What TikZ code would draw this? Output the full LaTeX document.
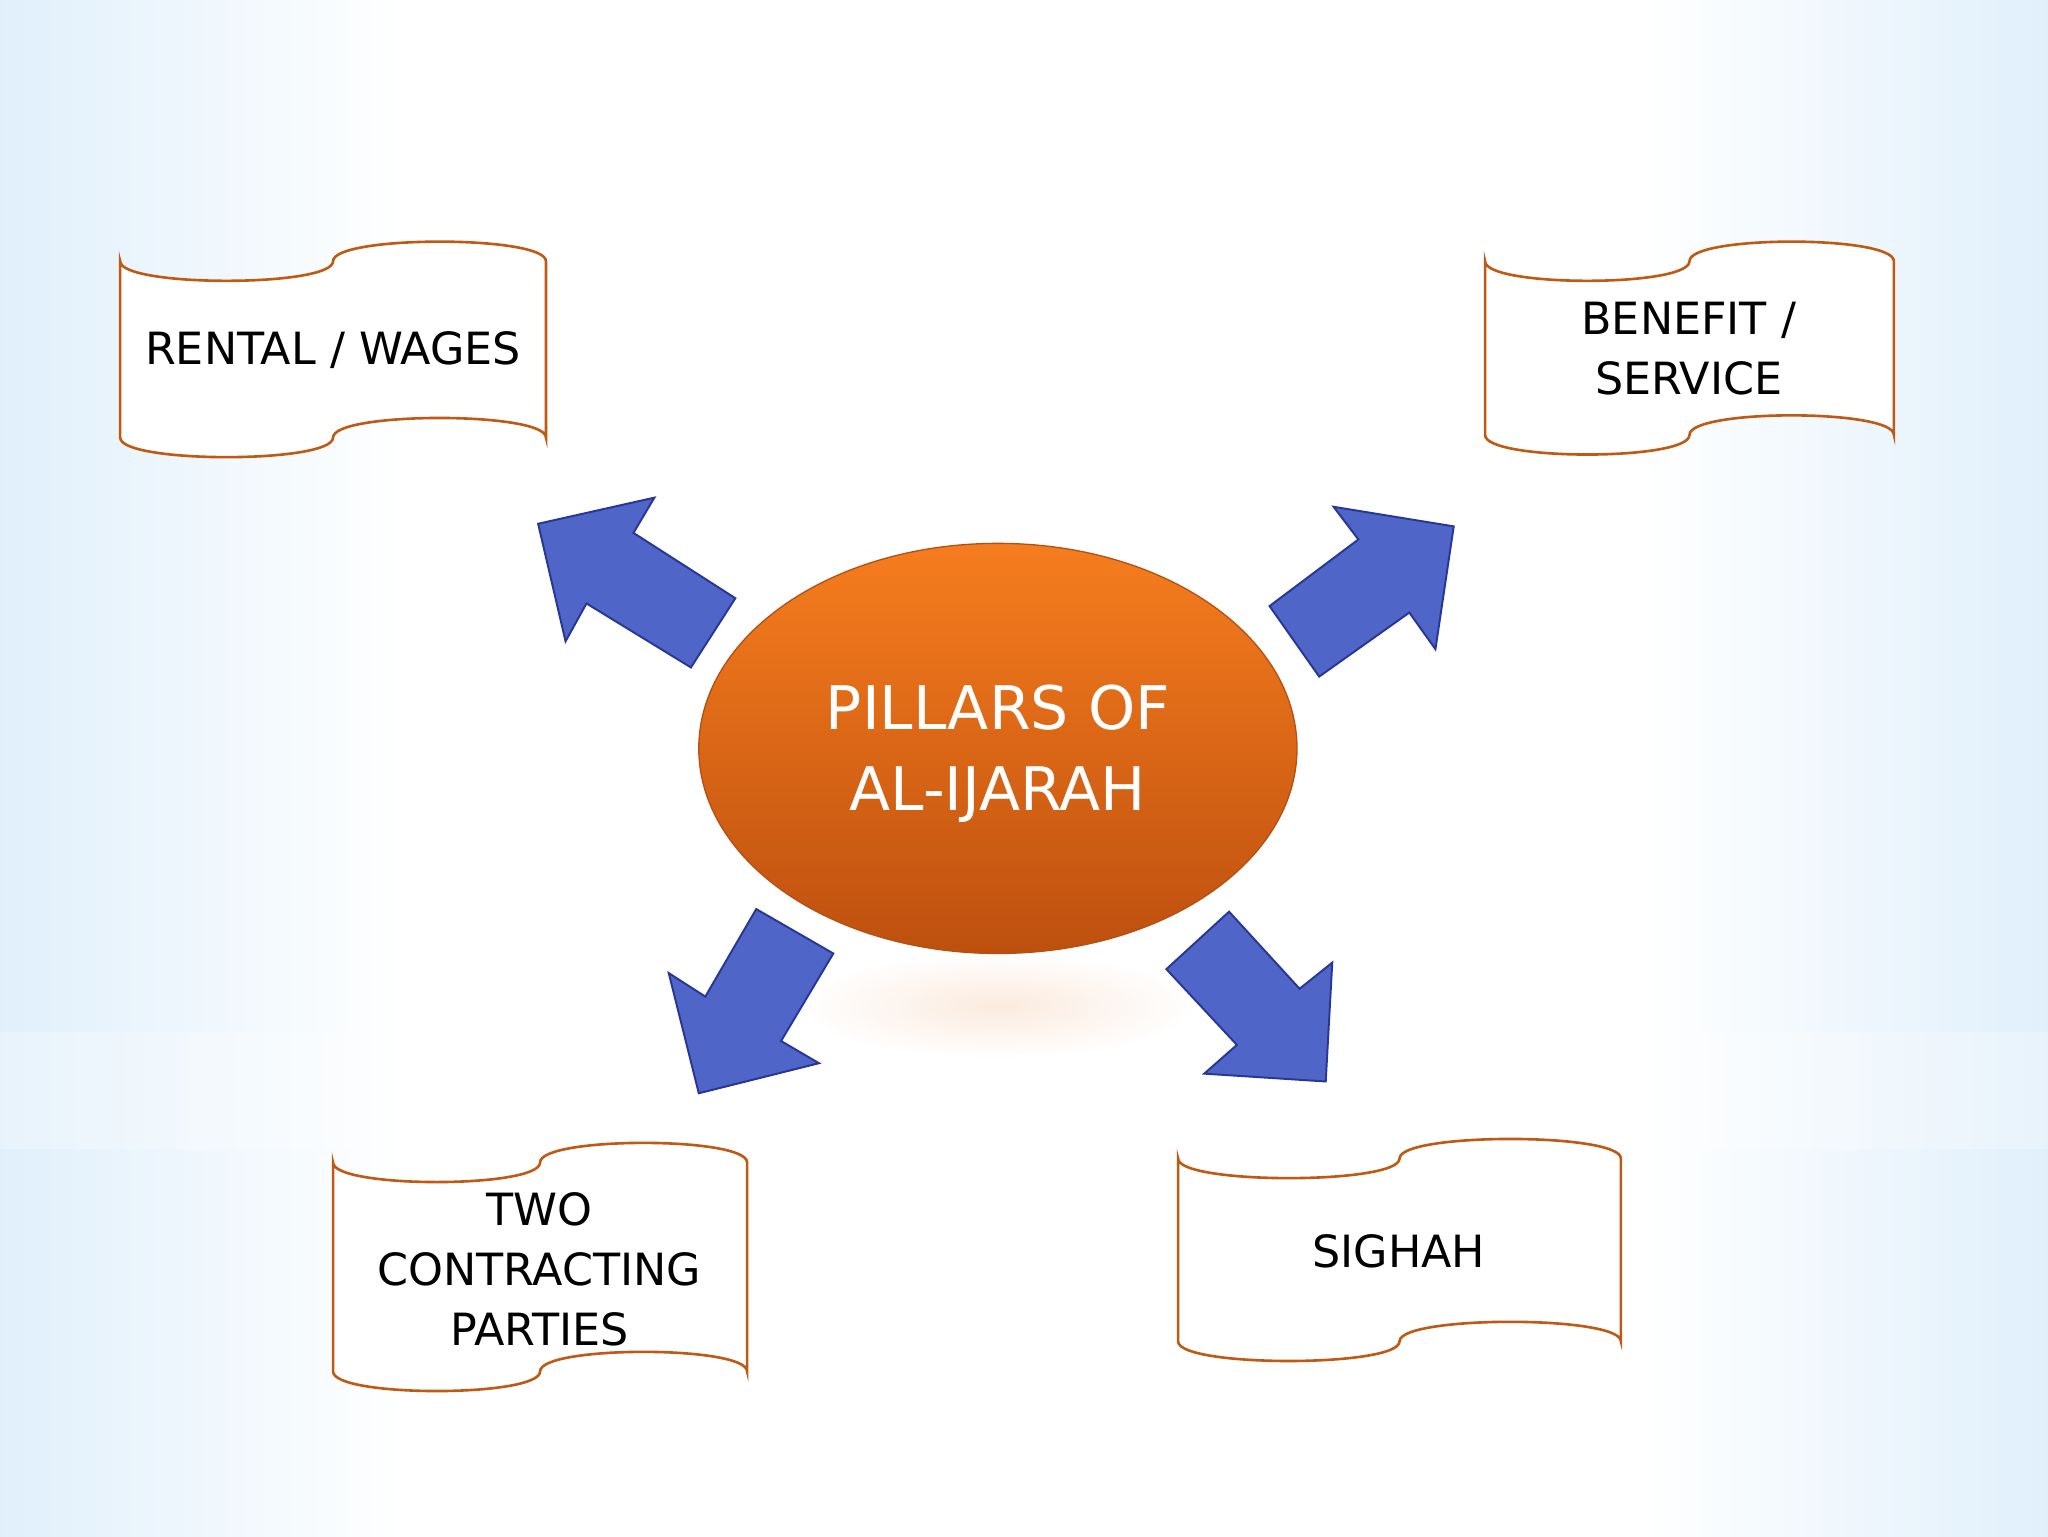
\documentclass[tikz,border=0pt]{standalone}
\usepackage{fontspec}
\setmainfont{DejaVu Sans}
\definecolor{bgb}{RGB}{168,212,246}
\definecolor{bgm}{RGB}{215,235,250}
\pgfdeclarehorizontalshading{bgh}{100bp}{color(0bp)=(bgb); color(22bp)=(bgm); color(35bp)=(white); color(65bp)=(white); color(78bp)=(bgm); color(100bp)=(bgb)}
\begin{document}
\begin{tikzpicture}[x=1pt,y=-1pt,
  banner/.style={draw={rgb,255:red,190;green,90;blue,20},line width=2pt,fill=white},
  blk/.style={draw={rgb,255:red,40;green,55;blue,150},line width=1.5pt,fill={rgb,255:red,79;green,101;blue,200}},
  lbl/.style={align=center,font=\fontsize{34}{46}\selectfont,text=black}]
\useasboundingbox (0,0) rectangle (1568,1176);
\shade[shading=bgh] (0,0) rectangle (1568,1176);
\fill[white,opacity=0.25] (0,790) rectangle (1568,880);
% reflection
\shade[inner color={rgb,255:red,248;green,215;blue,190},outer color=white,opacity=0.5] (764,770) ellipse (150 and 40);
\def\banner#1#2#3#4{% a b top bottom
  \pgfmathsetmacro\m{(#1+#2)/2}
  \draw[banner] (#1,#3) .. controls (#1,#3+20) and (\m,#3+20) .. (\m,#3)
     .. controls (\m,#3-20) and (#2,#3-20) .. (#2,#3)
     -- (#2,#4) .. controls (#2,#4-20) and (\m,#4-20) .. (\m,#4)
     .. controls (\m,#4+20) and (#1,#4+20) .. (#1,#4) -- cycle;}
\banner{92}{418}{200}{335}
\banner{1137}{1450}{200}{333}
\banner{255}{572}{890}{1050}
\banner{902}{1241}{887}{1027}
\node[lbl] (rw) at (255,268) {RENTAL / WAGES};
\node[lbl] (bs) at (1293,267) {BENEFIT /\\SERVICE};
\node[lbl] (tc) at (413,972) {TWO\\CONTRACTING\\PARTIES};
\node[lbl] (sg) at (1071,958) {SIGHAH};
% arrows
\draw[blk] (529,511)--(563,458)--(485,408)--(501,381)--(412,401)--(433,491)--(449,462)--cycle;
\draw[blk] (972,464)--(1010,518)--(1079,469)--(1099,497)--(1113,403)--(1021,388)--(1040,413)--cycle;
\draw[blk] (579,696)--(638,730)--(598,797)--(627,814)--(535,837)--(512,745)--(540,763)--cycle;
\draw[blk] (893,742)--(941,698)--(995,757)--(1020,737)--(1015,828)--(922,822)--(947,800)--cycle;
% center
\shade[top color={rgb,255:red,246;green,125;blue,30},bottom color={rgb,255:red,190;green,80;blue,15},draw={rgb,255:red,180;green,80;blue,20},line width=1pt] (764,573) ellipse (229 and 157);
\node[align=center,text=white,font=\fontsize{46}{62}\selectfont] (c) at (764,577) {PILLARS OF\\AL-IJARAH};
\end{tikzpicture}
\end{document}
